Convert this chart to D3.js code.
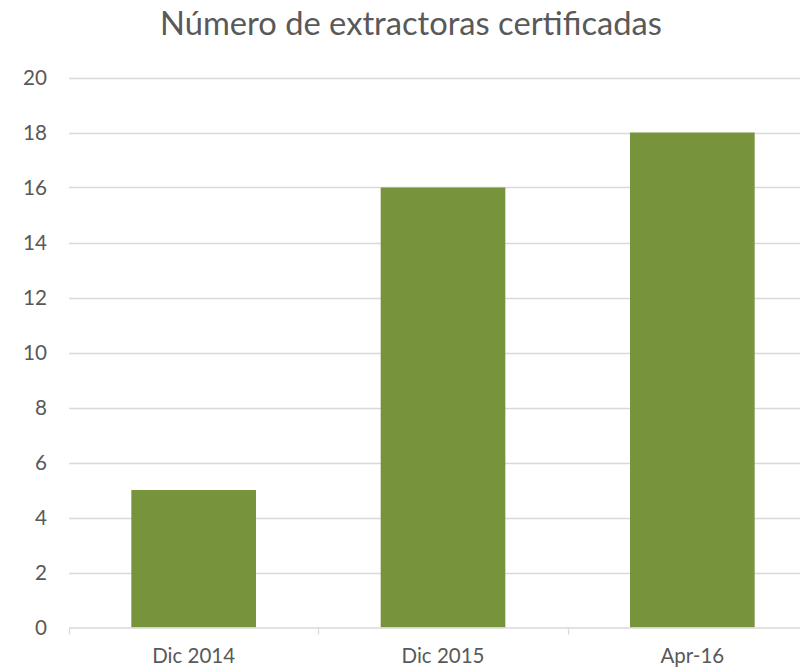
<!DOCTYPE html>
<html><head><meta charset="utf-8">
<script src="https://cdn.jsdelivr.net/npm/d3@7"></script>
<style>body{margin:0;background:#fff}svg{display:block}</style>
</head><body>
<svg id="c" width="800" height="668"></svg>
<script>
const categories = ["Dic 2014", "Dic 2015", "Apr-16"];
const values = [5, 16, 18];
const yTicks = [0, 2, 4, 6, 8, 10, 12, 14, 16, 18, 20];
const title = "Número de extractoras certificadas";

(function () {
const svg = d3.select("#c");
const font = "Lato, 'Open Sans', sans-serif";
const textColor = "#595959";
const pLeft = 69, pRight = 817, pTop = 77.5, pBottom = 627.5;

function fit(sel, base, target) {
  sel.attr("font-size", base);
  const w = sel.node().getComputedTextLength();
  return base * target / w;
}

const x = d3.scaleBand().domain(categories).range([pLeft, pRight]).paddingInner(0).paddingOuter(0);
const y = d3.scaleLinear().domain([0, 20]).range([pBottom, pTop]);

// gridlines
svg.append("g").selectAll("line").data(yTicks.filter(d => d > 0)).join("line")
  .attr("x1", pLeft).attr("x2", 800)
  .attr("y1", d => Math.round(y(d)) + 0.5).attr("y2", d => Math.round(y(d)) + 0.5)
  .attr("stroke", "#d9d9d9").attr("stroke-width", 1.3);

// bars
const bw = x.bandwidth() * 0.5;
svg.append("g").selectAll("rect").data(values).join("rect")
  .attr("x", (d, i) => x(categories[i]) + x.bandwidth() / 2 - bw / 2)
  .attr("width", bw)
  .attr("y", d => y(d))
  .attr("height", d => y(0) - y(d))
  .attr("fill", "#77933c");

// x axis
const xAxis = d3.axisBottom(x).tickSize(0).tickSizeOuter(0);
const gx = svg.append("g").attr("transform", `translate(0,${Math.round(y(0)) - 0.5})`).call(xAxis);
gx.select(".domain").attr("stroke", "#d9d9d9").attr("stroke-width", 1.3);
const xt = gx.selectAll("text").attr("font-family", font).attr("fill", textColor).attr("dy", 0).attr("y", 35);
const xs = fit(d3.select(xt.nodes()[0]), 20, 83);
xt.attr("font-size", xs);
const bounds = [...categories.map(c => x(c)), pRight];
gx.selectAll("line.bt").data(bounds).join("line").attr("class", "bt")
  .attr("x1", d => Math.round(d) + 0.5).attr("x2", d => Math.round(d) + 0.5)
  .attr("y1", 0).attr("y2", 7).attr("stroke", "#d9d9d9").attr("stroke-width", 1.3);

// y axis labels
const yAxis = d3.axisLeft(y).tickValues(yTicks).tickSize(0).tickPadding(0);
const gy = svg.append("g").attr("transform", `translate(47,0)`).call(yAxis);
gy.select(".domain").remove();
const yt = gy.selectAll("text").attr("font-family", font).attr("fill", textColor);
const ys = fit(d3.select(yt.nodes()[yt.size() - 1]), 20, 24);
yt.attr("font-size", ys);

// title
const t = svg.append("text").attr("x", 411).attr("y", 35).attr("text-anchor", "middle")
  .attr("font-family", font).attr("fill", textColor).text(title);
t.attr("font-size", fit(t, 30, 502));
})();
</script>
</body></html>
